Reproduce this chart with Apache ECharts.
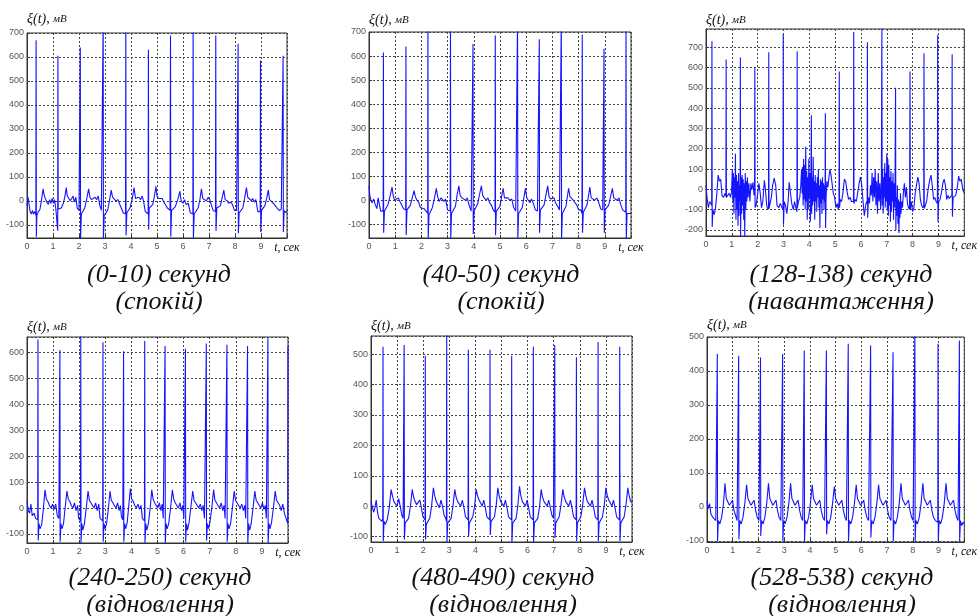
<!DOCTYPE html>
<html>
<head>
<meta charset="utf-8">
<script src="https://cdn.jsdelivr.net/npm/echarts@6/dist/echarts.min.js"></script>
<style>
  html, body { margin: 0; padding: 0; background: #fff; }
  #chart { width: 980px; height: 616px; }
</style>
</head>
<body>
<div id="chart"></div>
<script>
// ECG fragments, [t (сек), ξ (мВ)]
const ecg0_10 = [
[0,-20],[0.04,15],[0.08,-15],[0.12,-45],[0.17,-55],[0.21,-40],[0.25,-55],[0.3,-45],[0.34,-60],
[0.35,670],[0.36,-150],[0.38,-60],[0.44,-45],[0.5,-35],[0.56,5],[0.62,50],[0.66,25],[0.7,10],[0.76,-5],[0.82,-15],[0.87,5],[0.92,-10],[0.97,10],[1.02,-10],[1.06,5],[1.11,-35],[1.16,-40],[1.18,-125],
[1.19,605],[1.2,-35],[1.26,-40],[1.32,-30],[1.4,-10],[1.46,20],[1.51,55],[1.55,20],[1.6,15],[1.66,0],[1.72,10],[1.77,20],[1.82,-5],[1.88,15],[1.93,-30],[2.0,-40],[2.04,-45],
[2.05,640],[2.06,-160],[2.09,-55],[2.15,-55],[2.22,-30],[2.3,10],[2.37,50],[2.42,15],[2.48,5],[2.55,0],[2.62,15],[2.68,5],[2.74,20],[2.8,-20],[2.86,-40],[2.92,-45],
[2.93,760],[2.94,-160],[2.97,-60],[3.03,-55],[3.1,-40],[3.17,0],[3.24,45],[3.29,15],[3.34,10],[3.42,0],[3.5,5],[3.57,-15],[3.63,-10],[3.7,-50],[3.79,-55],
[3.80,760],[3.81,-145],[3.84,-50],[3.9,-55],[3.96,-30],[4.05,10],[4.12,55],[4.17,10],[4.22,5],[4.3,15],[4.37,5],[4.43,20],[4.48,0],[4.55,-45],[4.62,-50],[4.66,-55],
[4.67,630],[4.68,-120],[4.7,-30],[4.76,-35],[4.84,-15],[4.9,20],[4.96,60],[5.0,20],[5.06,10],[5.12,5],[5.2,10],[5.26,-5],[5.32,0],[5.4,-30],[5.5,-40],
[5.52,690],[5.53,-150],[5.56,-40],[5.62,-45],[5.7,-25],[5.8,5],[5.88,40],[5.93,0],[6.0,-10],[6.06,5],[6.12,-15],[6.2,-10],[6.28,-50],[6.38,-55],
[6.39,760],[6.4,-160],[6.43,-55],[6.5,-55],[6.58,-30],[6.65,5],[6.71,50],[6.76,10],[6.83,10],[6.9,0],[6.97,15],[7.03,5],[7.1,-20],[7.16,-40],[7.25,-45],
[7.26,690],[7.27,-125],[7.3,-30],[7.36,-35],[7.44,-20],[7.5,10],[7.57,45],[7.62,5],[7.7,0],[7.76,-10],[7.84,-5],[7.9,-15],[7.98,-40],[8.06,-40],[8.11,-45],
[8.12,655],[8.13,-135],[8.16,-50],[8.22,-50],[8.3,-30],[8.37,10],[8.44,55],[8.49,15],[8.56,10],[8.63,0],[8.68,10],[8.74,-5],[8.8,5],[8.88,-45],[8.97,-45],
[8.98,585],[8.99,-130],[9.02,-40],[9.08,-45],[9.15,-20],[9.22,10],[9.28,45],[9.33,5],[9.4,0],[9.47,-10],[9.55,-20],[9.62,-30],[9.7,-40],[9.78,-35],[9.84,-40],
[9.85,605],[9.86,-130],[9.89,-40],[9.95,-50],[10,-40]
];
const ecg40_50 = [
[0,60],[0.03,20],[0.07,0],[0.12,-10],[0.18,5],[0.23,-15],[0.3,-35],[0.35,10],[0.4,-20],[0.45,-45],[0.5,-40],[0.54,-45],
[0.55,615],[0.56,-135],[0.59,-45],[0.65,-40],[0.72,-20],[0.8,15],[0.88,55],[0.93,15],[0.98,0],[1.05,5],[1.12,10],[1.18,-5],[1.25,0],[1.32,-35],[1.4,-40],
[1.41,640],[1.42,-145],[1.45,-40],[1.52,-45],[1.58,-20],[1.65,10],[1.72,40],[1.77,15],[1.83,0],[1.9,-10],[1.96,-30],[2.03,-25],[2.1,-35],[2.18,-45],[2.24,-55],
[2.25,760],[2.26,-160],[2.29,-60],[2.35,-55],[2.42,-30],[2.5,10],[2.57,50],[2.62,15],[2.68,-5],[2.75,10],[2.8,15],[2.86,-5],[2.92,5],[3.0,-40],[3.1,-45],
[3.11,760],[3.12,-160],[3.15,-55],[3.22,-50],[3.3,-25],[3.36,20],[3.43,60],[3.48,20],[3.55,10],[3.62,5],[3.68,0],[3.75,10],[3.82,-20],[3.9,-45],[3.96,-45],
[3.97,650],[3.98,-140],[4.01,-45],[4.08,-40],[4.15,-15],[4.22,25],[4.29,60],[4.34,20],[4.4,10],[4.47,0],[4.54,10],[4.6,-10],[4.67,-20],[4.74,-40],[4.81,-50],
[4.82,685],[4.83,-145],[4.86,-45],[4.93,-45],[5.0,-25],[5.06,15],[5.12,50],[5.17,10],[5.24,5],[5.3,10],[5.37,0],[5.45,5],[5.52,-30],[5.6,-45],[5.66,-50],
[5.67,760],[5.68,-160],[5.71,-55],[5.78,-50],[5.85,-30],[5.91,10],[5.97,50],[6.02,10],[6.08,0],[6.14,-10],[6.2,5],[6.28,-15],[6.35,-40],[6.43,-45],[6.49,-50],
[6.50,670],[6.51,-135],[6.54,-40],[6.6,-45],[6.68,-20],[6.75,20],[6.82,60],[6.87,15],[6.94,5],[7.0,0],[7.06,10],[7.12,-10],[7.2,-25],[7.27,-40],[7.33,-45],
[7.34,760],[7.35,-160],[7.38,-55],[7.45,-50],[7.52,-25],[7.57,15],[7.62,50],[7.67,15],[7.73,10],[7.8,0],[7.86,5],[7.93,-20],[8.0,-40],[8.08,-40],[8.13,-55],
[8.14,690],[8.15,-135],[8.18,-50],[8.25,-50],[8.32,-20],[8.38,20],[8.43,55],[8.48,10],[8.55,5],[8.62,0],[8.7,10],[8.77,-10],[8.84,-35],[8.92,-40],[8.96,-45],
[8.97,630],[8.98,-135],[9.01,-40],[9.08,-40],[9.15,-20],[9.22,15],[9.29,50],[9.34,10],[9.4,5],[9.47,0],[9.54,10],[9.6,-15],[9.68,-40],[9.75,-45],[9.8,-50],
[9.81,760],[9.82,-160],[9.85,-55],[9.92,-60],[10,-55]
];
const ecg128_138 = [
[0,20],[0.04,-40],[0.09,-90],[0.14,-60],[0.19,-70],[0.22,-80],
[0.23,730],[0.24,-185],[0.27,-100],[0.32,-125],[0.37,-90],[0.42,-20],[0.47,70],[0.52,40],[0.57,50],[0.62,-30],[0.68,-40],[0.73,-20],[0.77,-35],
[0.78,640],[0.79,-40],[0.84,-30],[0.9,-20],[0.95,-40],[0.99,-10],[1.02,100],[1.04,-60],[1.06,80],[1.08,-120],[1.1,60],[1.12,-40],[1.14,175],[1.16,-150],[1.18,70],[1.2,-100],[1.22,40],[1.24,-180],[1.26,80],[1.28,-130],[1.3,20],[1.32,-60],
[1.33,650],[1.34,-230],[1.36,60],[1.38,-120],[1.4,70],[1.42,-80],[1.44,50],[1.46,-150],[1.48,30],[1.5,-230],[1.52,80],[1.54,-100],[1.56,40],[1.58,-60],[1.6,60],[1.63,-40],[1.66,30],[1.7,-60],[1.74,30],[1.78,0],[1.82,35],[1.86,-30],[1.88,-20],
[1.89,600],[1.9,-90],[1.94,-80],[2.0,-20],[2.05,30],[2.1,-20],[2.15,-90],[2.2,-60],[2.26,45],[2.3,0],[2.35,-80],[2.4,-100],[2.42,-90],
[2.43,675],[2.44,-95],[2.48,-90],[2.53,-40],[2.58,20],[2.64,55],[2.7,20],[2.75,-80],[2.82,-90],[2.88,-70],[2.94,-90],[2.98,-100],
[2.99,765],[3.0,-175],[3.03,-60],[3.08,-80],[3.13,-120],[3.18,-60],[3.22,35],[3.27,30],[3.32,-70],[3.38,-100],[3.43,-60],[3.48,-90],[3.52,-110],
[3.53,680],[3.54,-90],[3.58,-60],[3.63,-40],[3.67,20],[3.7,100],[3.72,-20],[3.74,110],[3.76,-80],[3.78,150],[3.8,-50],[3.82,120],[3.84,-100],[3.86,210],[3.88,-60],[3.9,90],[3.92,-150],[3.94,60],[3.96,-100],[3.98,150],[4.0,-40],[4.02,80],[4.04,-160],[4.06,40],
[4.08,365],[4.09,-120],[4.11,60],[4.13,-80],[4.15,160],[4.17,-60],[4.19,40],[4.21,-150],[4.23,70],[4.25,-60],[4.27,30],[4.29,-110],[4.31,60],[4.33,-40],[4.35,100],[4.37,-90],[4.39,20],[4.41,-190],[4.43,50],[4.45,-70],[4.47,40],[4.49,-120],[4.51,60],[4.53,-50],[4.55,30],[4.57,-100],[4.59,20],[4.61,-60],
[4.62,375],[4.63,-190],[4.65,-40],[4.68,40],[4.72,10],[4.76,60],[4.8,100],[4.84,70],[4.88,30],[4.93,-20],[4.98,-40],[5.03,-90],[5.08,-70],[5.12,-100],[5.15,-60],
[5.16,580],[5.17,-90],[5.2,-50],[5.25,-60],[5.3,-20],[5.36,50],[5.41,40],[5.46,-10],[5.52,-50],[5.58,-40],[5.63,-60],[5.68,-55],[5.71,-60],
[5.72,775],[5.73,-70],[5.77,-50],[5.82,-60],[5.87,-20],[5.93,30],[5.98,60],[6.03,20],[6.08,-60],[6.13,-130],[6.18,-80],[6.22,-60],[6.24,-70],
[6.25,725],[6.26,-140],[6.29,-40],[6.33,-70],[6.37,20],[6.4,-30],[6.43,80],[6.46,-60],[6.49,60],[6.52,-40],[6.55,100],[6.58,-80],[6.61,40],[6.64,-120],[6.67,80],[6.7,-60],[6.73,30],[6.76,-100],[6.79,50],
[6.81,800],[6.82,-80],[6.84,100],[6.86,-120],[6.88,60],[6.9,-40],[6.92,130],[6.94,-90],[6.96,80],[6.98,-60],[7.0,175],[7.02,-100],[7.04,150],[7.06,-130],[7.08,120],[7.1,-80],[7.12,60],[7.14,-160],[7.16,90],[7.18,-110],[7.2,40],[7.22,-60],[7.24,80],[7.26,-150],[7.28,30],[7.3,-90],[7.32,50],
[7.34,500],[7.35,-200],[7.37,-40],[7.39,-130],[7.41,20],[7.43,-170],[7.45,-50],[7.47,-215],[7.49,-60],[7.51,-140],[7.53,-20],[7.55,-120],[7.58,-60],[7.61,-90],[7.64,-20],[7.68,30],[7.72,-40],[7.76,10],[7.8,-70],[7.84,-90],[7.88,-100],
[7.90,580],[7.91,-100],[7.95,-60],[8.0,-110],[8.05,-90],[8.1,-20],[8.15,20],[8.2,60],[8.25,30],[8.3,-50],[8.35,-80],[8.4,-90],[8.43,-80],
[8.44,670],[8.45,-95],[8.49,-90],[8.54,-60],[8.6,0],[8.66,45],[8.71,70],[8.76,20],[8.81,-50],[8.86,-40],[8.91,-60],[8.96,-70],
[8.97,760],[8.98,-160],[9.01,-60],[9.06,-50],[9.11,-20],[9.17,30],[9.22,50],[9.27,20],[9.32,-50],[9.37,-30],[9.42,-45],[9.47,-40],[9.52,-30],
[9.53,665],[9.54,-135],[9.57,-40],[9.62,-35],[9.67,-30],[9.73,10],[9.78,65],[9.83,40],[9.88,50],[9.93,10],[9.97,-10],[10,-20]
];
const ecg240_250 = [
[0,25],[0.05,-10],[0.1,-20],[0.15,15],[0.2,-30],[0.27,-20],[0.33,-40],[0.39,-40],[0.41,-45],
[0.42,650],[0.43,-125],[0.46,-60],[0.5,-80],[0.56,-65],[0.62,-10],[0.69,70],[0.74,35],[0.8,25],[0.86,10],[0.92,0],[0.98,15],[1.04,-5],[1.1,15],[1.16,-30],[1.22,-40],[1.25,-45],
[1.26,610],[1.27,-130],[1.3,-60],[1.34,-80],[1.4,-60],[1.46,0],[1.53,65],[1.58,35],[1.64,25],[1.7,10],[1.76,0],[1.82,20],[1.88,-10],[1.94,10],[1.98,-40],[2.03,-45],[2.05,-50],
[2.06,680],[2.07,-135],[2.1,-60],[2.14,-85],[2.2,-60],[2.27,0],[2.34,65],[2.39,30],[2.45,25],[2.51,10],[2.57,0],[2.63,20],[2.69,-10],[2.75,15],[2.8,-40],[2.87,-45],[2.9,-50],
[2.91,640],[2.92,-130],[2.95,-60],[2.99,-80],[3.05,-60],[3.12,0],[3.18,65],[3.23,30],[3.29,20],[3.35,10],[3.41,0],[3.47,20],[3.53,-10],[3.58,10],[3.62,-35],[3.67,-45],[3.69,-50],
[3.70,605],[3.71,-130],[3.74,-60],[3.78,-80],[3.84,-55],[3.9,10],[3.96,75],[4.01,35],[4.07,25],[4.13,10],[4.19,0],[4.25,15],[4.31,-5],[4.37,10],[4.42,-40],[4.48,-45],[4.5,-50],
[4.51,645],[4.52,-135],[4.55,-60],[4.59,-85],[4.65,-60],[4.72,0],[4.78,70],[4.83,35],[4.89,20],[4.95,10],[5.01,0],[5.07,20],[5.13,-10],[5.18,15],[5.22,-40],[5.27,-45],
[5.29,625],[5.3,-135],[5.33,-60],[5.37,-80],[5.43,-60],[5.5,0],[5.57,70],[5.62,35],[5.68,20],[5.74,10],[5.8,0],[5.86,20],[5.92,-10],[5.97,10],[6.01,-40],[6.05,-45],
[6.07,615],[6.08,-130],[6.11,-60],[6.15,-85],[6.21,-55],[6.28,5],[6.35,65],[6.4,30],[6.46,25],[6.52,10],[6.58,0],[6.64,15],[6.7,-10],[6.75,10],[6.8,-40],[6.85,-45],
[6.87,635],[6.88,-125],[6.91,-60],[6.95,-80],[7.01,-55],[7.08,0],[7.15,70],[7.2,30],[7.26,20],[7.32,10],[7.38,0],[7.44,20],[7.5,-10],[7.55,10],[7.59,-40],[7.64,-45],
[7.66,630],[7.67,-130],[7.7,-60],[7.74,-80],[7.8,-60],[7.87,0],[7.94,65],[7.99,30],[8.05,25],[8.11,10],[8.17,0],[8.23,15],[8.29,-10],[8.34,10],[8.38,-40],[8.43,-45],
[8.45,625],[8.46,-135],[8.49,-60],[8.53,-85],[8.59,-60],[8.66,0],[8.73,65],[8.78,30],[8.84,20],[8.9,10],[8.96,0],[9.02,20],[9.08,-5],[9.13,10],[9.17,-40],[9.21,-45],
[9.23,655],[9.24,-135],[9.27,-60],[9.31,-80],[9.37,-55],[9.44,0],[9.51,65],[9.56,30],[9.62,20],[9.68,10],[9.74,-10],[9.8,15],[9.86,-20],[9.91,-35],[9.96,-40],[9.99,-60],
[10,625]
];
const ecg480_490 = [
[0,15],[0.05,10],[0.1,-20],[0.15,-5],[0.2,20],[0.25,-20],[0.3,-40],[0.36,-45],[0.42,-50],[0.45,-40],
[0.46,525],[0.47,-115],[0.5,-50],[0.55,-60],[0.62,-45],[0.7,-5],[0.77,55],[0.82,35],[0.88,15],[0.94,10],[1.0,0],[1.06,25],[1.12,0],[1.18,-30],[1.23,-40],[1.26,-45],
[1.27,530],[1.28,-110],[1.31,-55],[1.37,-60],[1.44,-40],[1.51,0],[1.58,55],[1.63,30],[1.69,15],[1.75,5],[1.81,0],[1.87,20],[1.93,-5],[1.99,-35],[2.04,-40],[2.07,-45],
[2.08,495],[2.09,-110],[2.12,-60],[2.18,-55],[2.25,-40],[2.32,0],[2.39,60],[2.44,35],[2.5,15],[2.56,10],[2.62,-5],[2.68,20],[2.74,0],[2.8,-30],[2.86,-40],[2.89,-50],
[2.90,580],[2.91,-118],[2.94,-55],[3.0,-60],[3.07,-40],[3.14,0],[3.21,55],[3.26,30],[3.32,15],[3.38,10],[3.44,0],[3.5,20],[3.56,-5],[3.62,-35],[3.68,-40],[3.72,-45],
[3.73,515],[3.74,-100],[3.77,-55],[3.83,-55],[3.9,-35],[3.97,0],[4.03,55],[4.08,35],[4.14,20],[4.2,10],[4.26,0],[4.32,20],[4.38,-5],[4.44,-35],[4.5,-40],[4.55,-45],
[4.56,515],[4.57,-95],[4.6,-50],[4.66,-55],[4.73,-35],[4.8,5],[4.86,60],[4.91,35],[4.97,15],[5.03,10],[5.09,0],[5.15,20],[5.21,-5],[5.27,-35],[5.33,-40],[5.38,-45],
[5.39,495],[5.4,-118],[5.43,-55],[5.49,-60],[5.56,-40],[5.63,5],[5.69,65],[5.74,35],[5.8,15],[5.86,10],[5.92,0],[5.98,20],[6.04,-5],[6.1,-35],[6.16,-40],[6.21,-45],
[6.22,525],[6.23,-118],[6.26,-55],[6.32,-55],[6.39,-40],[6.46,0],[6.52,55],[6.57,30],[6.63,15],[6.69,10],[6.75,0],[6.81,20],[6.87,-5],[6.93,-30],[6.99,-40],[7.03,-45],
[7.04,530],[7.05,-105],[7.08,-55],[7.14,-55],[7.21,-35],[7.28,5],[7.35,55],[7.4,30],[7.46,15],[7.52,10],[7.58,0],[7.64,20],[7.7,-5],[7.76,-35],[7.82,-40],[7.86,-45],
[7.87,490],[7.88,-115],[7.91,-55],[7.97,-55],[8.04,-35],[8.11,5],[8.18,60],[8.23,35],[8.29,15],[8.35,10],[8.41,0],[8.47,20],[8.53,-5],[8.59,-35],[8.65,-40],[8.69,-45],
[8.70,540],[8.71,-115],[8.74,-55],[8.8,-55],[8.87,-35],[8.94,5],[9.0,60],[9.05,35],[9.11,20],[9.17,10],[9.23,0],[9.29,20],[9.35,-5],[9.41,-35],[9.47,-40],[9.52,-45],
[9.53,525],[9.54,-115],[9.57,-55],[9.63,-55],[9.7,-35],[9.77,5],[9.84,60],[9.89,35],[9.95,15],[10,15]
];
const ecg528_538 = [
[0,15],[0.05,-5],[0.1,10],[0.15,-20],[0.22,-30],[0.28,-35],[0.34,-40],[0.39,-45],
[0.40,450],[0.41,-100],[0.44,-40],[0.5,-50],[0.57,-30],[0.64,10],[0.7,70],[0.75,25],[0.81,20],[0.87,5],[0.93,0],[0.99,20],[1.05,-10],[1.11,-25],[1.17,-40],[1.22,-45],
[1.23,445],[1.24,-95],[1.27,-40],[1.33,-50],[1.4,-30],[1.47,10],[1.54,65],[1.59,25],[1.65,20],[1.71,5],[1.77,0],[1.83,20],[1.89,-10],[1.95,-30],[2.02,-40],[2.07,-45],
[2.08,440],[2.09,-85],[2.12,-40],[2.18,-50],[2.25,-30],[2.32,10],[2.39,70],[2.44,25],[2.5,20],[2.56,5],[2.62,0],[2.68,20],[2.74,-10],[2.8,-30],[2.87,-40],[2.93,-45],
[2.94,450],[2.95,-100],[2.98,-40],[3.04,-50],[3.11,-30],[3.18,10],[3.25,70],[3.3,25],[3.36,20],[3.42,5],[3.48,0],[3.54,20],[3.6,-10],[3.66,-30],[3.72,-40],[3.77,-45],
[3.78,460],[3.79,-100],[3.82,-40],[3.88,-50],[3.95,-30],[4.02,10],[4.09,65],[4.14,25],[4.2,20],[4.26,5],[4.32,0],[4.38,20],[4.44,-10],[4.5,-30],[4.57,-40],[4.63,-45],
[4.64,460],[4.65,-80],[4.68,-40],[4.74,-50],[4.81,-30],[4.88,10],[4.95,60],[5.0,25],[5.06,20],[5.12,5],[5.18,0],[5.24,20],[5.3,-10],[5.36,-30],[5.42,-40],[5.48,-45],
[5.49,480],[5.5,-100],[5.53,-40],[5.59,-50],[5.66,-30],[5.73,10],[5.8,65],[5.85,25],[5.91,20],[5.97,5],[6.03,0],[6.09,20],[6.15,-10],[6.21,-30],[6.28,-40],[6.35,-45],
[6.36,475],[6.37,-90],[6.4,-40],[6.46,-50],[6.53,-30],[6.6,10],[6.67,65],[6.72,25],[6.78,20],[6.84,5],[6.9,0],[6.96,20],[7.02,-10],[7.08,-30],[7.15,-40],[7.22,-45],
[7.23,455],[7.24,-100],[7.27,-40],[7.33,-50],[7.4,-30],[7.47,10],[7.54,70],[7.59,25],[7.65,20],[7.71,5],[7.77,0],[7.83,20],[7.89,-10],[7.95,-30],[8.01,-40],[8.07,-45],
[8.08,520],[8.09,-100],[8.12,-40],[8.18,-50],[8.25,-30],[8.32,10],[8.39,70],[8.44,25],[8.5,20],[8.56,5],[8.62,0],[8.68,20],[8.74,-10],[8.8,-30],[8.88,-40],[8.97,-45],
[8.98,480],[8.99,-100],[9.02,-40],[9.08,-50],[9.15,-30],[9.22,10],[9.29,70],[9.34,25],[9.4,20],[9.46,5],[9.52,0],[9.58,20],[9.64,-10],[9.7,-30],[9.76,-40],[9.8,-45],
[9.81,490],[9.82,-100],[9.85,-40],[9.9,-55],[9.95,-45],[10,-50]
];

const captions = [
  '(0-10) секунд\n(спокій)',
  '(40-50) секунд\n(спокій)',
  '(128-138) секунд\n(навантаження)',
  '(240-250) секунд\n(відновлення)',
  '(480-490) секунд\n(відновлення)',
  '(528-538) секунд\n(відновлення)'
];
const yRanges = [[-155, 700], [-157, 700], [-230, 790], [-135, 660], [-118, 560], [-103, 500]];
const signals = [ecg0_10, ecg40_50, ecg128_138, ecg240_250, ecg480_490, ecg528_538];

// layout: grid box and caption position for each panel
const panels = [
  { left: 27,  top: 33,  width: 260, height: 205, gap: 7, cx: 154, cy: 257 },
  { left: 369, top: 32,  width: 262, height: 206, gap: 4, cx: 496, cy: 257 },
  { left: 706, top: 29,  width: 263, height: 207, gap: 2, cx: 836, cy: 257 },
  { left: 27,  top: 337, width: 261, height: 206, gap: 3, cx: 155, cy: 560 },
  { left: 371, top: 336, width: 261, height: 206, gap: 3, cx: 498, cy: 560 },
  { left: 707, top: 337, width: 261, height: 205, gap: 3, cx: 837, cy: 560 }
];

const chart = echarts.init(document.getElementById('chart'));
const serif = '"Liberation Serif", "Times New Roman", serif';
const sans = '"Liberation Sans", Arial, sans-serif';

var grids = [], xAxes = [], yAxes = [], series = [], titles = [];
panels.forEach(function (p, i) {
  var ymin = yRanges[i][0], ymax = yRanges[i][1];
  grids.push({
    left: p.left, top: p.top, width: p.width, height: p.height,
    show: true, borderColor: '#333', borderWidth: 1, backgroundColor: '#fff'
  });
  xAxes.push({
    gridIndex: i, type: 'value', min: 0, max: 10, interval: 1,
    axisLine: { show: true, onZero: false, lineStyle: { color: '#333', width: 1 } },
    axisTick: { show: true, inside: true, length: 3, lineStyle: { color: '#333' } },
    axisLabel: {
      interval: 0, margin: 4, fontSize: 9, color: '#555', fontFamily: sans,
      formatter: function (v) { return v === 10 ? '{u|t, сек}' : String(v); },
      rich: { u: { fontFamily: serif, fontStyle: 'italic', fontSize: 12, color: '#111' } }
    },
    splitLine: { show: true, lineStyle: { color: '#444', type: [2, 2], width: 1 } }
  });
  yAxes.push({
    gridIndex: i, type: 'value', min: ymin, max: ymax,
    splitNumber: Math.round((ymax - ymin) / 100),
    name: '{a|ξ(t),} {b|мВ}', nameLocation: 'end', nameGap: p.gap,
    nameTextStyle: {
      align: 'left', verticalAlign: 'bottom',
      rich: {
        a: { fontFamily: serif, fontStyle: 'italic', fontSize: 14, color: '#111' },
        b: { fontFamily: serif, fontStyle: 'italic', fontSize: 11, color: '#111' }
      }
    },
    axisLine: { show: true, onZero: false, lineStyle: { color: '#333', width: 1 } },
    axisTick: { show: true, inside: true, length: 3, lineStyle: { color: '#333' } },
    axisLabel: {
      margin: 3, fontSize: 9, color: '#555', fontFamily: sans,
      showMinLabel: ymin % 100 === 0, showMaxLabel: ymax % 100 === 0
    },
    splitLine: { show: true, lineStyle: { color: '#444', type: [2, 2], width: 1 } }
  });
  series.push({
    type: 'line', xAxisIndex: i, yAxisIndex: i, data: signals[i],
    showSymbol: false, clip: true, animation: false,
    lineStyle: { color: '#1414ff', width: 1.1 }
  });
  titles.push({
    text: captions[i], left: p.cx, top: p.cy, textAlign: 'center',
    textStyle: { fontFamily: serif, fontStyle: 'italic', fontWeight: 'normal', fontSize: 26, lineHeight: 27, color: '#111' }
  });
});

chart.setOption({
  backgroundColor: '#fff',
  animation: false,
  title: titles,
  grid: grids,
  xAxis: xAxes,
  yAxis: yAxes,
  series: series
});
</script>
</body>
</html>
